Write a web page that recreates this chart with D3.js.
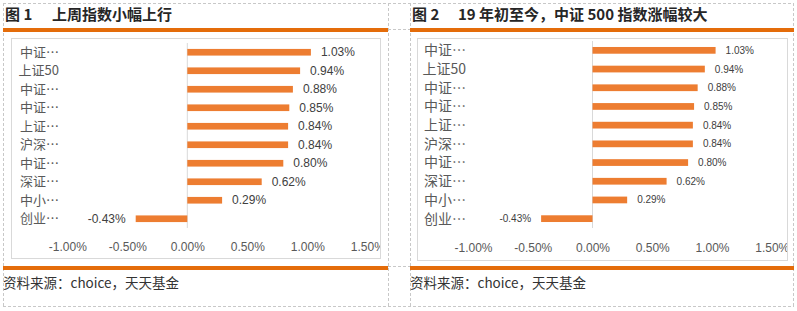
<!DOCTYPE html>
<html><head><meta charset="utf-8">
<script src="https://cdn.jsdelivr.net/npm/d3@7"></script>
<style>
body{margin:0;background:#fff;}
svg{display:block;font-family:"Noto Sans CJK SC","Liberation Sans",sans-serif;}
</style></head>
<body><svg id="c" width="797" height="311"></svg>
<script>
const categories = ["中证…","上证50","中证…","中证…","上证…","沪深…","中证…","深证…","中小…","创业…"];
const values = [1.03, 0.94, 0.88, 0.85, 0.84, 0.84, 0.80, 0.62, 0.29, -0.43];
const tickValues = [-1.0, -0.5, 0.0, 0.5, 1.0, 1.5];
const titleNums = ["图 1", "图 2"];
const titles = ["上周指数小幅上行", "19 年初至今，中证 500 指数涨幅较大"];
const sourceText = "资料来源：choice，天天基金";

const pct = d => d3.format(".2f")(d).replace("−","-") + "%";
const svg = d3.select("#c");
const dash = "#c8c8c8";
function dline(x1,y1,x2,y2){
  svg.append("line").attr("x1",x1).attr("y1",y1).attr("x2",x2).attr("y2",y2)
    .attr("stroke",dash).attr("stroke-width",1).attr("stroke-dasharray","3,2");
}
dline(3,3.5,794,3.5); dline(3,306.5,794,306.5);
dline(3.5,3,3.5,306); dline(388.5,3,388.5,306); dline(410.5,3,410.5,306); dline(793.5,3,793.5,306);
dline(388,29.5,410,29.5); dline(388,266.5,410,266.5);

const panels = [
  {x0:3, x1:388, box:[11,38,380,258], zero:187.3, unit:120, band:[43,228], labelX:59, catSize:13, valSize:12, tickY:249, titleX:52},
  {x0:410, x1:794, box:[417,38,787,260], zero:592.5, unit:119.5, band:[41,228], labelX:466, catSize:14, valSize:10, tickY:250, titleX:458}
];

panels.forEach((p,k)=>{
  const g = svg.append("g");
  g.append("text").attr("x",p.x0+2).attr("y",20).attr("font-size",15).attr("font-weight","bold")
    .attr("fill","#262626").text(titleNums[k]);
  g.append("text").attr("x",p.titleX).attr("y",20).attr("font-size",15).attr("font-weight","bold")
    .attr("fill","#262626").text(titles[k]);
  g.append("rect").attr("x",p.x0).attr("y",28).attr("width",p.x1-p.x0).attr("height",4).attr("fill","#E46C0A");
  g.append("rect").attr("x",p.x0).attr("y",266).attr("width",p.x1-p.x0).attr("height",4).attr("fill","#E46C0A");
  g.append("text").attr("x",p.x0).attr("y",288).attr("font-size",13.5).attr("fill","#333").text(sourceText);
  const [bx0,by0,bx1,by1] = p.box;
  g.append("rect").attr("x",bx0+0.5).attr("y",by0+0.5).attr("width",bx1-bx0).attr("height",by1-by0)
    .attr("fill","none").attr("stroke","#d9d9d9");

  const x = d3.scaleLinear().domain([0,1]).range([p.zero, p.zero+p.unit]);
  const y = d3.scaleBand().domain(d3.range(categories.length)).range(p.band).paddingInner(0.64).paddingOuter(0.32);

  const clipId = "clip"+k;
  svg.append("clipPath").attr("id",clipId).append("rect").attr("x",bx0).attr("y",by0).attr("width",bx1-bx0).attr("height",by1-by0);
  const wrap = g.append("g").attr("clip-path",`url(#${clipId})`);
  const axis = d3.axisBottom(x).tickValues(tickValues).tickSize(0).tickFormat(pct);
  const ax = wrap.append("g").attr("transform",`translate(0,${p.tickY-10})`).call(axis);
  ax.select(".domain").remove();
  ax.selectAll("text").attr("font-size",12).attr("fill","#595959").attr("font-family","Liberation Sans, sans-serif").attr("dy","0.71em");

  g.append("line").attr("x1",x(0)).attr("x2",x(0)).attr("y1",p.band[0]).attr("y2",p.band[1])
    .attr("stroke","#d9d9d9").attr("stroke-width",1);

  g.selectAll(".bar").data(values).join("rect")
    .attr("x",d=>x(Math.min(0,d))).attr("width",d=>Math.abs(x(d)-x(0)))
    .attr("y",(d,i)=>y(i)).attr("height",y.bandwidth()).attr("fill","#ED7D31");

  g.selectAll(".val").data(values).join("text")
    .attr("x",d=>d>=0 ? x(d)+10 : x(d)-10)
    .attr("y",(d,i)=>y(i)+y.bandwidth()/2).attr("dy","0.35em")
    .attr("text-anchor",d=>d>=0?"start":"end")
    .attr("font-size",p.valSize).attr("fill","#404040").attr("font-family","Liberation Sans, sans-serif")
    .text(pct);

  g.selectAll(".cat").data(categories).join("text")
    .attr("x",p.labelX).attr("y",(d,i)=>y(i)+y.bandwidth()/2).attr("dy","0.35em")
    .attr("text-anchor","end").attr("font-size",p.catSize).attr("fill","#595959").text(d=>d);
});
</script></body></html>
